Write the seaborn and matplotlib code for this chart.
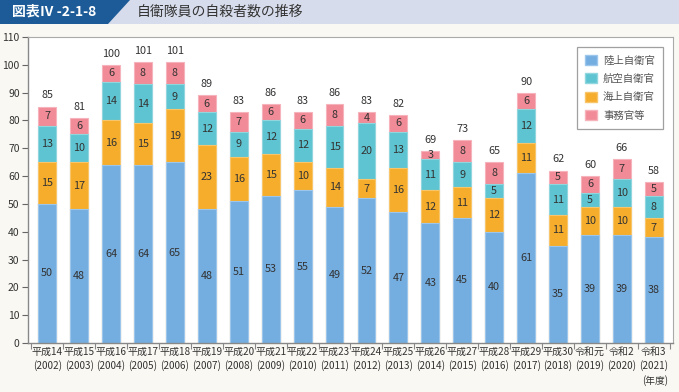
import matplotlib
matplotlib.use("Agg")
import matplotlib.pyplot as plt
import matplotlib.patches as mpatches
import numpy as np
import pandas as pd
import seaborn as sns

years = ["平成14\n(2002)", "平成15\n(2003)", "平成16\n(2004)", "平成17\n(2005)", "平成18\n(2006)",
         "平成19\n(2007)", "平成20\n(2008)", "平成21\n(2009)", "平成22\n(2010)", "平成23\n(2011)",
         "平成24\n(2012)", "平成25\n(2013)", "平成26\n(2014)", "平成27\n(2015)", "平成28\n(2016)",
         "平成29\n(2017)", "平成30\n(2018)", "令和元\n(2019)", "令和2\n(2020)", "令和3\n(2021)"]
ground = [50, 48, 64, 64, 65, 48, 51, 53, 55, 49, 52, 47, 43, 45, 40, 61, 35, 39, 39, 38]
maritime = [15, 17, 16, 15, 19, 23, 16, 15, 10, 14, 7, 16, 12, 11, 12, 11, 11, 10, 10, 7]
air = [13, 10, 14, 14, 9, 12, 9, 12, 12, 15, 20, 13, 11, 9, 5, 12, 11, 5, 10, 8]
office = [7, 6, 6, 8, 8, 6, 7, 6, 6, 8, 4, 6, 3, 8, 8, 6, 5, 6, 7, 5]
series_names = ["陸上自衛官", "航空自衛官", "海上自衛官", "事務官等"]

plt.rcParams['font.family'] = ['Noto Sans CJK JP', 'DejaVu Sans']

col_ground = "#74ade0"
col_mar = "#f5ad2b"
col_air = "#5ec4d1"
col_off = "#f08b97"
edge_ground = "#9cc6ec"
edge_mar = "#f8c56a"
edge_air = "#8fd6df"
edge_off = "#f6b3bb"

bg = "#f9f8f3"
fig = plt.figure(figsize=(6.79, 3.92), dpi=100, facecolor=bg)
ax = fig.add_axes([28/679, 1-343/392, (673-28)/679, (343-37)/392])
ax.set_facecolor("white")

g = np.array(ground); m = np.array(maritime); a = np.array(air); o = np.array(office)
df = pd.DataFrame({"year": years, "c1": g, "c2": g + m, "c3": g + m + a, "c4": g + m + a + o})

for col, fc, ec in [("c4", col_off, edge_off), ("c3", col_air, edge_air),
                    ("c2", col_mar, edge_mar), ("c1", col_ground, edge_ground)]:
    sns.barplot(data=df, x="year", y=col, color=fc, width=0.56, ax=ax,
                edgecolor=ec, linewidth=0.8, saturation=1, zorder=2)

x = np.arange(len(years))
txt = "#333333"
for i in range(len(years)):
    segs = [(0, g[i]), (g[i], m[i]), (g[i] + m[i], a[i]), (g[i] + m[i] + a[i], o[i])]
    for b, h in segs:
        ax.text(x[i], b + h / 2, str(h), ha="center", va="center", fontsize=7.8, color=txt, zorder=3)
    tot = g[i] + m[i] + a[i] + o[i]
    ax.text(x[i], tot + 2.2, str(tot), ha="center", va="bottom", fontsize=7.8, color=txt, zorder=3)

ax.set_ylim(0, 110)
ax.set_xlim(-0.6, len(years) - 0.4)
ax.set_yticks(range(0, 111, 10))
ax.set_xticks(x)
ax.set_xticklabels(years, fontsize=7.2, color=txt, linespacing=1.3)
ax.tick_params(axis="x", length=0, pad=3)
ax.tick_params(axis="y", labelsize=7.5, colors="#666666", labelcolor=txt, length=4, width=0.8, pad=2)
ax.set_xticks(np.arange(-0.5, len(years), 1), minor=True)
ax.tick_params(axis="x", which="minor", length=4, width=0.8, color="#888888")
ax.set_xlabel("")
ax.set_ylabel("")

for s in ["left", "bottom"]:
    ax.spines[s].set_color("#888888")
    ax.spines[s].set_linewidth(1.0)
for s in ["top", "right"]:
    ax.spines[s].set_color("#aaaaaa")
    ax.spines[s].set_linewidth(0.8)

fig.text(668/679, 1-381/392, "(年度)", ha="right", va="center", fontsize=7, color=txt)

handles = [mpatches.Patch(facecolor=c, edgecolor=e, label=n) for c, e, n in
           [(col_ground, edge_ground, "陸上自衛官"), (col_air, edge_air, "航空自衛官"),
            (col_mar, edge_mar, "海上自衛官"), (col_off, edge_off, "事務官等")]]
leg = ax.legend(handles=handles, loc="upper right", bbox_to_anchor=(0.993, 0.985), fontsize=7.5,
                frameon=True, fancybox=False, edgecolor="#888888", handlelength=1.1, handleheight=1.1,
                labelspacing=0.75, borderpad=0.8, handletextpad=0.6)
leg.get_frame().set_linewidth(0.9)
for t in leg.get_texts():
    t.set_color("#555555")

# header band
hdr = fig.add_axes([0, 1-24/392, 1, 24/392])
hdr.set_xlim(0, 679); hdr.set_ylim(0, 24)
hdr.axis("off")
hdr.add_patch(mpatches.Rectangle((0, 0), 679, 24, facecolor="#d7dcec", edgecolor="none"))
hdr.add_patch(mpatches.Polygon([(0, 0), (0, 24), (130, 24), (108, 0)], closed=True,
                               facecolor="#1c5b98", edgecolor="none"))
hdr.text(12, 12, "図表Ⅳ -2-1-8", color="white", fontsize=10, fontweight="bold", va="center", ha="left")
hdr.text(137, 12, "自衛隊員の自殺者数の推移", color="#333333", fontsize=10, va="center", ha="left")

fig.savefig("out.png", dpi=100, facecolor=bg)
